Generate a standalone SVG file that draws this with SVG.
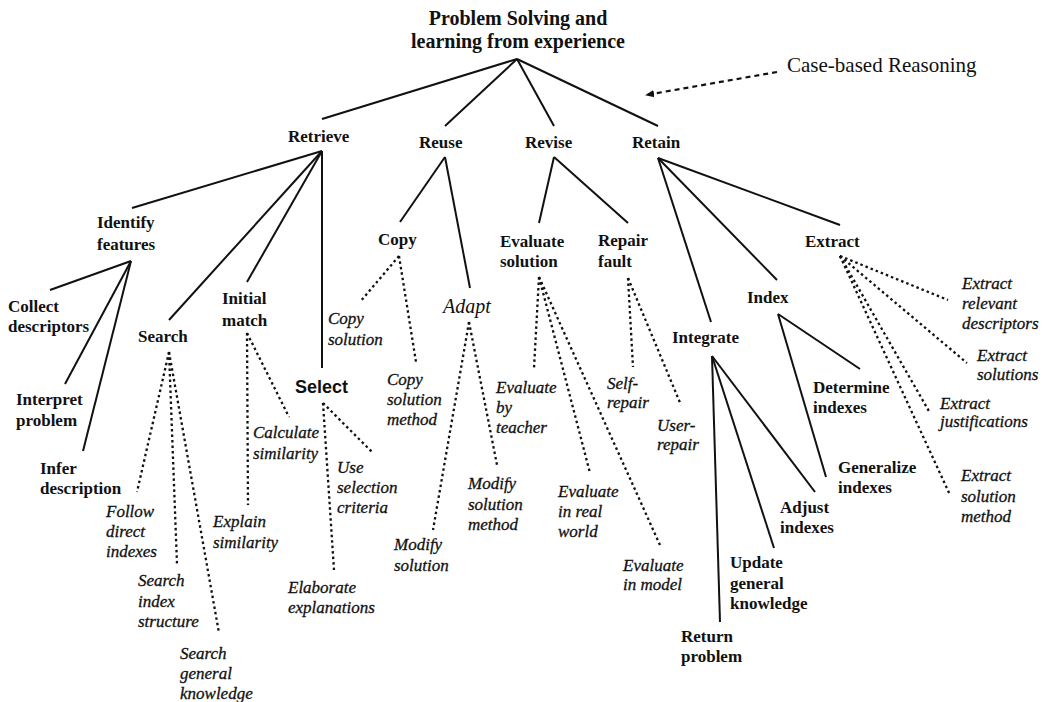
<svg xmlns="http://www.w3.org/2000/svg" width="1043" height="702" viewBox="0 0 1043 702">
  <defs>
    <style>
      .b { font-family: "Liberation Serif", serif; font-weight: bold; font-size: 17px; fill: #111; }
      .i { font-family: "Liberation Serif", serif; font-style: italic; font-size: 17px; fill: #111; stroke: #111; stroke-width: 0.3; }
      .t { font-family: "Liberation Serif", serif; font-weight: bold; font-size: 20px; fill: #111; }
      .n { font-family: "Liberation Serif", serif; font-size: 21px; fill: #111; }
      .sel { font-family: "Liberation Sans", sans-serif; font-weight: bold; font-size: 18px; fill: #111; }
      .ad { font-family: "Liberation Serif", serif; font-style: italic; font-size: 20px; fill: #111; }
      .solid line { stroke: #111; stroke-width: 2; fill: none; }
      .dot line { stroke: #111; stroke-width: 2.3; stroke-dasharray: 2.5 3; fill: none; }
    </style>
    <marker id="arrow" viewBox="0 0 10 10" refX="9" refY="5" markerWidth="9" markerHeight="9" orient="auto" markerUnits="userSpaceOnUse">
      <path d="M0,1 L10,5 L0,9 Z" fill="#111"/>
    </marker>
  </defs>
  <rect width="1043" height="702" fill="#fff"/>

  <!-- connectors -->
  <g id="connectors">
    <g class="solid">
      <!-- root to the four phases -->
      <line x1="517" y1="59" x2="322" y2="119"/>
      <line x1="517" y1="59" x2="445" y2="126"/>
      <line x1="517" y1="59" x2="554" y2="126"/>
      <line x1="517" y1="59" x2="658" y2="126"/>
      <!-- Retrieve -->
      <line x1="322" y1="151" x2="132" y2="208"/>
      <line x1="322" y1="151" x2="169" y2="320"/>
      <line x1="322" y1="151" x2="247" y2="282"/>
      <line x1="322" y1="151" x2="322" y2="368"/>
      <!-- Identify features -->
      <line x1="131" y1="261" x2="50" y2="290"/>
      <line x1="131" y1="261" x2="65" y2="384"/>
      <line x1="131" y1="261" x2="83" y2="451"/>
      <!-- Reuse -->
      <line x1="445" y1="157" x2="400" y2="222"/>
      <line x1="445" y1="157" x2="470" y2="288"/>
      <!-- Revise -->
      <line x1="554" y1="157" x2="539" y2="223"/>
      <line x1="554" y1="157" x2="628" y2="223"/>
      <!-- Retain -->
      <line x1="658" y1="158" x2="711" y2="322"/>
      <line x1="658" y1="158" x2="777" y2="280"/>
      <line x1="658" y1="158" x2="840" y2="225"/>
      <!-- Index -->
      <line x1="778" y1="314" x2="860" y2="369"/>
      <line x1="778" y1="314" x2="826" y2="477"/>
      <!-- Integrate -->
      <line x1="712" y1="356" x2="720" y2="622"/>
      <line x1="712" y1="356" x2="774" y2="548"/>
      <line x1="712" y1="356" x2="815" y2="492"/>
    </g>
    <g class="dot">
      <!-- Search -->
      <line x1="169" y1="352" x2="137" y2="492"/>
      <line x1="169" y1="352" x2="177" y2="564"/>
      <line x1="169" y1="352" x2="219" y2="633"/>
      <!-- Initial match -->
      <line x1="247" y1="333" x2="248" y2="505"/>
      <line x1="247" y1="333" x2="289" y2="417"/>
      <!-- Select -->
      <line x1="323" y1="403" x2="334" y2="570"/>
      <line x1="323" y1="403" x2="372" y2="452"/>
      <!-- Copy -->
      <line x1="399" y1="256" x2="360" y2="302"/>
      <line x1="399" y1="256" x2="416" y2="362"/>
      <!-- Adapt -->
      <line x1="469" y1="322" x2="433" y2="530"/>
      <line x1="469" y1="322" x2="497" y2="465"/>
      <!-- Evaluate solution -->
      <line x1="539" y1="277" x2="534" y2="368"/>
      <line x1="539" y1="277" x2="590" y2="473"/>
      <line x1="539" y1="277" x2="660" y2="545"/>
      <!-- Repair fault -->
      <line x1="628" y1="278" x2="633" y2="367"/>
      <line x1="628" y1="278" x2="681" y2="405"/>
      <!-- Extract -->
      <line x1="840" y1="256" x2="948" y2="300"/>
      <line x1="840" y1="256" x2="967" y2="363"/>
      <line x1="840" y1="256" x2="930" y2="413"/>
      <line x1="840" y1="256" x2="950" y2="495"/>
    </g>
    <!-- pointer from the label to the tree -->
    <line x1="777" y1="72" x2="646" y2="95" stroke="#111" stroke-width="2.2" stroke-dasharray="5 4" marker-end="url(#arrow)"/>
  </g>

  <!-- nodes -->
  <g id="root"><text class="t" x="518" y="25" text-anchor="middle">Problem Solving and</text><text class="t" x="518" y="48" text-anchor="middle">learning from experience</text></g>
  <g id="cbr-label"><text class="n" x="787" y="72">Case-based Reasoning</text></g>

  <g id="retrieve"><text class="b" x="288" y="142">Retrieve</text></g>
  <g id="reuse"><text class="b" x="419" y="148">Reuse</text></g>
  <g id="revise"><text class="b" x="525" y="148">Revise</text></g>
  <g id="retain"><text class="b" x="632" y="148">Retain</text></g>

  <g id="identify-features"><text class="b" x="97" y="228">Identify</text><text class="b" x="97" y="250">features</text></g>
  <g id="collect-descriptors"><text class="b" x="8" y="312">Collect</text><text class="b" x="8" y="332">descriptors</text></g>
  <g id="interpret-problem"><text class="b" x="16" y="405">Interpret</text><text class="b" x="16" y="426">problem</text></g>
  <g id="infer-description"><text class="b" x="40" y="474">Infer</text><text class="b" x="40" y="494">description</text></g>
  <g id="search"><text class="b" x="138" y="342">Search</text></g>
  <g id="initial-match"><text class="b" x="222" y="304">Initial</text><text class="b" x="222" y="326">match</text></g>
  <g id="select"><text class="sel" x="295" y="393">Select</text></g>

  <g id="follow-direct-indexes"><text class="i" x="106" y="517">Follow</text><text class="i" x="106" y="537">direct</text><text class="i" x="106" y="557">indexes</text></g>
  <g id="search-index-structure"><text class="i" x="138" y="586">Search</text><text class="i" x="138" y="607">index</text><text class="i" x="138" y="627">structure</text></g>
  <g id="search-general-knowledge"><text class="i" x="180" y="659">Search</text><text class="i" x="180" y="679">general</text><text class="i" x="180" y="699">knowledge</text></g>
  <g id="explain-similarity"><text class="i" x="213" y="527">Explain</text><text class="i" x="213" y="548">similarity</text></g>
  <g id="calculate-similarity"><text class="i" x="253" y="438">Calculate</text><text class="i" x="253" y="459">similarity</text></g>
  <g id="use-selection-criteria"><text class="i" x="337" y="473">Use</text><text class="i" x="337" y="493">selection</text><text class="i" x="337" y="513">criteria</text></g>
  <g id="elaborate-explanations"><text class="i" x="288" y="593">Elaborate</text><text class="i" x="288" y="613">explanations</text></g>

  <g id="copy"><text class="b" x="378" y="245">Copy</text></g>
  <g id="adapt"><text class="ad" x="443" y="313">Adapt</text></g>
  <g id="copy-solution"><text class="i" x="328" y="324">Copy</text><text class="i" x="328" y="345">solution</text></g>
  <g id="copy-solution-method"><text class="i" x="387" y="385">Copy</text><text class="i" x="387" y="405">solution</text><text class="i" x="387" y="425">method</text></g>
  <g id="modify-solution"><text class="i" x="394" y="550">Modify</text><text class="i" x="394" y="571">solution</text></g>
  <g id="modify-solution-method"><text class="i" x="468" y="489">Modify</text><text class="i" x="468" y="510">solution</text><text class="i" x="468" y="530">method</text></g>

  <g id="evaluate-solution"><text class="b" x="500" y="247">Evaluate</text><text class="b" x="500" y="267">solution</text></g>
  <g id="repair-fault"><text class="b" x="598" y="246">Repair</text><text class="b" x="598" y="267">fault</text></g>
  <g id="evaluate-by-teacher"><text class="i" x="496" y="393">Evaluate</text><text class="i" x="496" y="413">by</text><text class="i" x="496" y="433">teacher</text></g>
  <g id="evaluate-in-real-world"><text class="i" x="558" y="497">Evaluate</text><text class="i" x="558" y="517">in real</text><text class="i" x="558" y="537">world</text></g>
  <g id="evaluate-in-model"><text class="i" x="623" y="571">Evaluate</text><text class="i" x="623" y="590">in model</text></g>
  <g id="self-repair"><text class="i" x="607" y="389">Self-</text><text class="i" x="607" y="408">repair</text></g>
  <g id="user-repair"><text class="i" x="657" y="431">User-</text><text class="i" x="657" y="450">repair</text></g>

  <g id="integrate"><text class="b" x="672" y="343">Integrate</text></g>
  <g id="index"><text class="b" x="747" y="303">Index</text></g>
  <g id="extract"><text class="b" x="805" y="247">Extract</text></g>
  <g id="determine-indexes"><text class="b" x="813" y="393">Determine</text><text class="b" x="813" y="413">indexes</text></g>
  <g id="generalize-indexes"><text class="b" x="838" y="473">Generalize</text><text class="b" x="838" y="493">indexes</text></g>
  <g id="adjust-indexes"><text class="b" x="780" y="513">Adjust</text><text class="b" x="780" y="533">indexes</text></g>
  <g id="update-general-knowledge"><text class="b" x="730" y="568">Update</text><text class="b" x="730" y="589">general</text><text class="b" x="730" y="609">knowledge</text></g>
  <g id="return-problem"><text class="b" x="681" y="642">Return</text><text class="b" x="681" y="662">problem</text></g>

  <g id="extract-relevant-descriptors"><text class="i" x="962" y="289">Extract</text><text class="i" x="962" y="309">relevant</text><text class="i" x="962" y="329">descriptors</text></g>
  <g id="extract-solutions"><text class="i" x="977" y="361">Extract</text><text class="i" x="977" y="380">solutions</text></g>
  <g id="extract-justifications"><text class="i" x="940" y="409">Extract</text><text class="i" x="940" y="427">justifications</text></g>
  <g id="extract-solution-method"><text class="i" x="961" y="481">Extract</text><text class="i" x="961" y="502">solution</text><text class="i" x="961" y="522">method</text></g>
</svg>
